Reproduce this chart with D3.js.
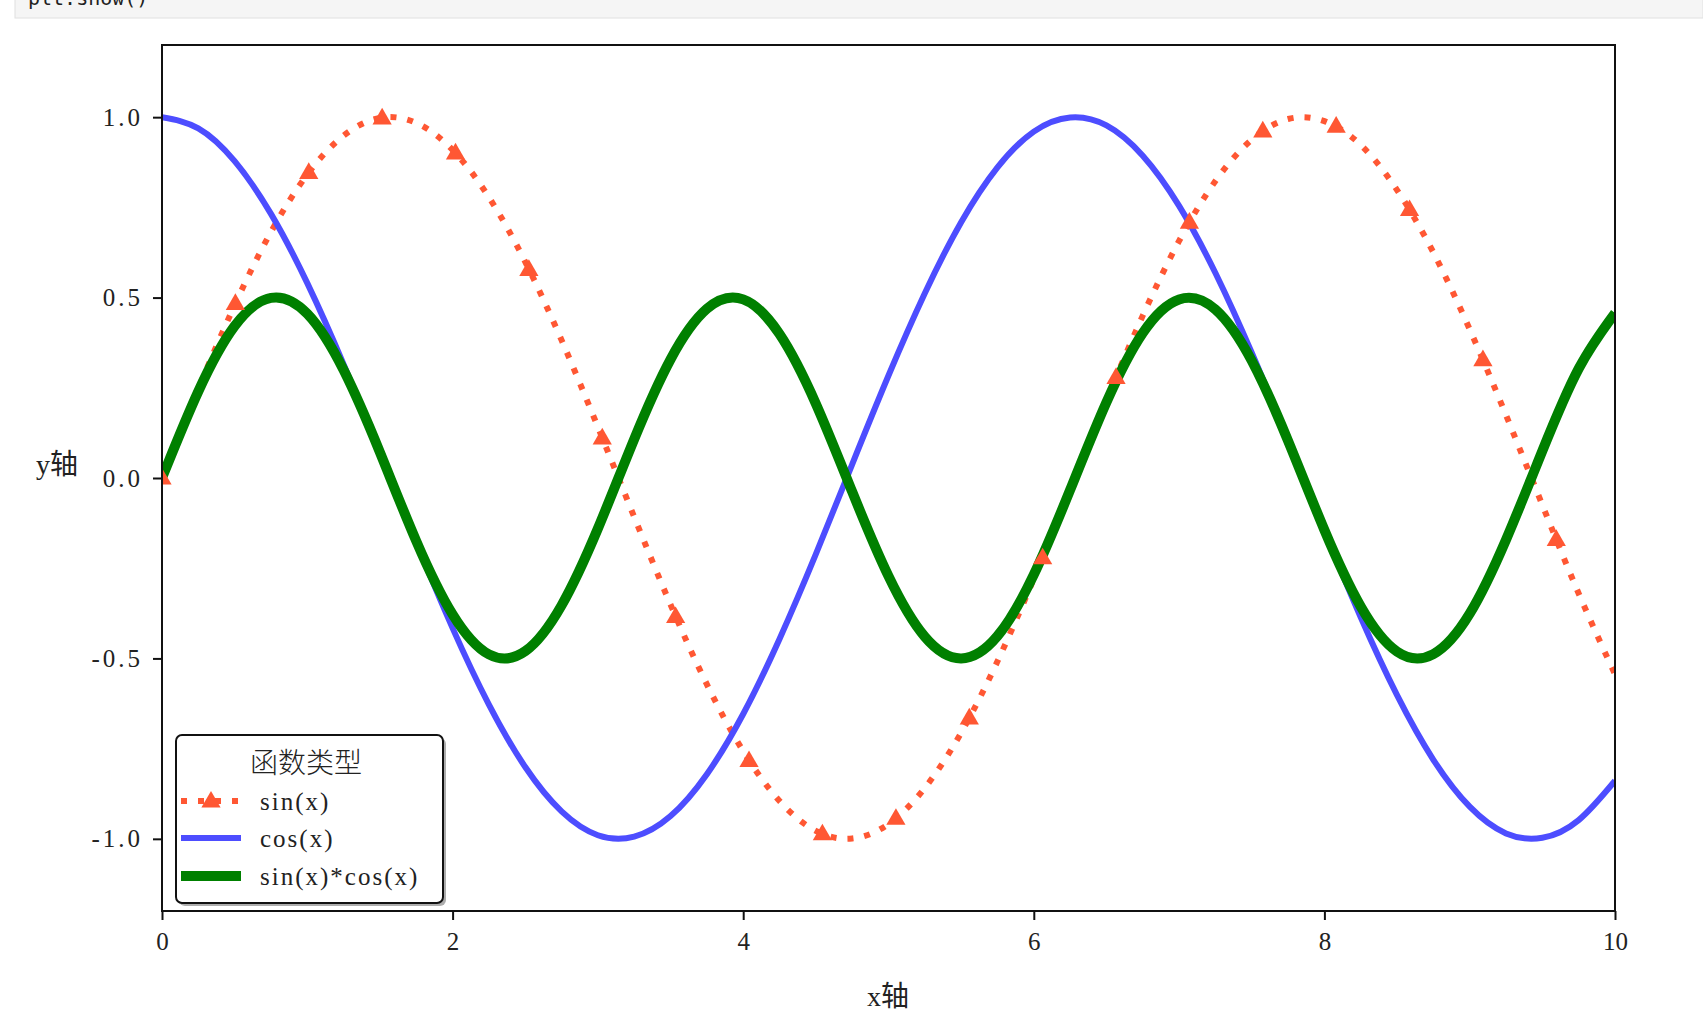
<!DOCTYPE html>
<html>
<head>
<meta charset="utf-8">
<script src="https://cdn.jsdelivr.net/npm/d3@7"></script>
<style>
  body { margin: 0; background: #fff; }
  svg text { font-family: "Liberation Serif", "Noto Sans CJK SC", serif; fill: #222; }
</style>
</head>
<body>
<svg id="chart"></svg>
<script>
var xs = [0, 0.25, 0.5, 0.75, 1, 1.25, 1.5, 1.75, 2, 2.25, 2.5, 2.75, 3, 3.25, 3.5, 3.75, 4, 4.25, 4.5, 4.75,
          5, 5.25, 5.5, 5.75, 6, 6.25, 6.5, 6.75, 7, 7.25, 7.5, 7.75, 8, 8.25, 8.5, 8.75, 9, 9.25, 9.5, 9.75, 10];
var sinVals = [0, 0.247, 0.479, 0.682, 0.841, 0.949, 0.998, 0.984, 0.909, 0.778, 0.599, 0.382, 0.141, -0.108, -0.351, -0.572,
               -0.757, -0.895, -0.978, -0.999, -0.959, -0.859, -0.706, -0.508, -0.279, -0.033, 0.215, 0.450, 0.657, 0.823,
               0.938, 0.995, 0.989, 0.923, 0.798, 0.625, 0.412, 0.174, -0.075, -0.320, -0.544];
var cosVals = [1, 0.969, 0.878, 0.732, 0.540, 0.315, 0.071, -0.178, -0.416, -0.628, -0.801, -0.924, -0.990, -0.994, -0.937,
               -0.821, -0.654, -0.446, -0.211, 0.038, 0.284, 0.512, 0.709, 0.861, 0.960, 0.999, 0.977, 0.893, 0.754, 0.568,
               0.347, 0.104, -0.146, -0.386, -0.602, -0.781, -0.911, -0.985, -0.997, -0.948, -0.839];
var prodVals = [0, 0.240, 0.421, 0.499, 0.455, 0.299, 0.071, -0.175, -0.378, -0.489, -0.480, -0.353, -0.140, 0.108, 0.329,
                0.469, 0.495, 0.399, 0.206, -0.038, -0.272, -0.440, -0.500, -0.438, -0.268, -0.033, 0.210, 0.402, 0.495,
                0.467, 0.325, 0.103, -0.144, -0.356, -0.481, -0.488, -0.376, -0.171, 0.075, 0.303, 0.457];
// triangle markers on the sin curve
var markX = [0, 0.505, 1.010, 1.515, 2.020, 2.525, 3.030, 3.535, 4.040, 4.545, 5.051, 5.556, 6.061, 6.566, 7.071,
             7.576, 8.081, 8.586, 9.091, 9.596];
var markY = [0, 0.484, 0.847, 0.998, 0.901, 0.578, 0.111, -0.384, -0.783, -0.986, -0.943, -0.665, -0.221, 0.279, 0.709,
             0.962, 0.975, 0.744, 0.328, -0.170];
var xTicks = [0, 2, 4, 6, 8, 10];
var yTicks = [-1.0, -0.5, 0.0, 0.5, 1.0];
var seriesNames = ['sin(x)', 'cos(x)', 'sin(x)*cos(x)'];

var W = 1703, H = 1027;
var plot = { left: 162, top: 45, right: 1615, bottom: 911 };
var red = '#ff5733', blue = '#4d4dff', green = '#008000';

var svg = d3.select('#chart').attr('width', W).attr('height', H);

// notebook cell remnant at the top
svg.append('rect').attr('x', 15).attr('y', -2).attr('width', W - 15).attr('height', 20)
    .attr('fill', '#f5f5f5').attr('stroke', '#e0e0e0');
svg.append('text').attr('x', 28).attr('y', 5)
    .style('font-family', '"DejaVu Sans Mono", monospace').style('font-size', '20px')
    .text('plt.show()');

var x = d3.scaleLinear().domain([0, 10]).range([plot.left, plot.right]);
var y = d3.scaleLinear().domain([-1.2, 1.2]).range([plot.bottom, plot.top]);

svg.append('defs').append('clipPath').attr('id', 'clip')
    .append('rect')
    .attr('x', plot.left).attr('y', plot.top)
    .attr('width', plot.right - plot.left).attr('height', plot.bottom - plot.top);

var g = svg.append('g').attr('clip-path', 'url(#clip)');

function lineOf(vals) {
    return d3.line()
        .x(function (d, i) { return x(xs[i]); })
        .y(function (d) { return y(d); })
        .curve(d3.curveNatural)(vals);
}

g.append('path').attr('d', lineOf(sinVals))
    .attr('fill', 'none').attr('stroke', red).attr('stroke-width', 6)
    .attr('stroke-dasharray', '6,11');
g.append('path').attr('d', lineOf(cosVals))
    .attr('fill', 'none').attr('stroke', blue).attr('stroke-width', 6);
g.append('path').attr('d', lineOf(prodVals))
    .attr('fill', 'none').attr('stroke', green).attr('stroke-width', 10);

var tri = d3.symbol().type(d3.symbolTriangle).size(160);
g.selectAll('.mark').data(markY).enter().append('path')
    .attr('class', 'mark')
    .attr('d', tri)
    .attr('transform', function (d, i) { return 'translate(' + x(markX[i]) + ',' + (y(d) + 1) + ')'; })
    .attr('fill', red);

// frame
svg.append('rect')
    .attr('x', plot.left).attr('y', plot.top)
    .attr('width', plot.right - plot.left).attr('height', plot.bottom - plot.top)
    .attr('fill', 'none').attr('stroke', '#111').attr('stroke-width', 2);

// axes
var xAxis = d3.axisBottom(x).tickValues(xTicks).tickSize(9).tickPadding(12)
    .tickFormat(d3.format('d'));
var yAxis = d3.axisLeft(y).tickValues(yTicks).tickSize(9).tickPadding(10)
    .tickFormat(function (d) { return d3.format('.1f')(d).replace('\u2212', '-'); });

var gx = svg.append('g').attr('transform', 'translate(0,' + plot.bottom + ')').call(xAxis);
var gy = svg.append('g').attr('transform', 'translate(' + plot.left + ',0)').call(yAxis);
[gx, gy].forEach(function (a) {
    a.select('.domain').remove();
    a.selectAll('line').attr('stroke', '#111').attr('stroke-width', 2);
    a.selectAll('text').style('font-size', '25px').attr('fill', '#222')
        .style('font-family', '"Liberation Serif", serif');
});
gy.selectAll('text').style('letter-spacing', '3px');

svg.append('text').attr('x', 888).attr('y', 996)
    .attr('text-anchor', 'middle').attr('dominant-baseline', 'central')
    .style('font-size', '28px').text('x轴');
svg.append('text').attr('x', 57).attr('y', 464)
    .attr('text-anchor', 'middle').attr('dominant-baseline', 'central')
    .style('font-size', '28px').text('y轴');

// legend
var lg = svg.append('g');
lg.append('rect').attr('x', 179).attr('y', 738).attr('width', 267).attr('height', 168)
    .attr('rx', 6).attr('fill', '#777').attr('opacity', 0.6);
lg.append('rect').attr('x', 176).attr('y', 735).attr('width', 267).attr('height', 168)
    .attr('rx', 6).attr('fill', '#fff').attr('stroke', '#111').attr('stroke-width', 2);
lg.append('text').attr('x', 306).attr('y', 761)
    .attr('text-anchor', 'middle').attr('dominant-baseline', 'central')
    .style('font-size', '28px').style('font-family', '"Noto Sans CJK SC", sans-serif')
    .style('font-weight', 300).text('函数类型');

var rowY = [801, 838, 876];
var styles = [
    { color: red, width: 6, dash: '6,11' },
    { color: blue, width: 6, dash: null },
    { color: green, width: 10, dash: null }
];
seriesNames.forEach(function (name, i) {
    var s = styles[i];
    lg.append('line').attr('x1', 181).attr('x2', 241).attr('y1', rowY[i]).attr('y2', rowY[i])
        .attr('stroke', s.color).attr('stroke-width', s.width)
        .attr('stroke-dasharray', s.dash);
    if (i === 0) {
        lg.append('path').attr('d', tri)
            .attr('transform', 'translate(211,' + (rowY[i] + 1) + ')').attr('fill', red);
    }
    lg.append('text').attr('x', 260).attr('y', rowY[i])
        .attr('dominant-baseline', 'central')
        .style('font-size', '25px').style('letter-spacing', '2px').text(name);
});
</script>
</body>
</html>
